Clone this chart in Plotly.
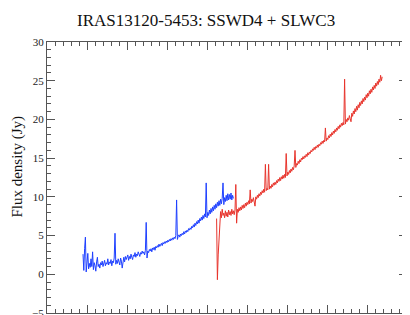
import plotly.graph_objects as go

# Spectral channel grids (regular sampling) and flux values
ssw_x_start, ssw_x_step = 4.5, 0.1
ssw_flux = [2.6, 0.5, 3.3, 4.8, 0.3, 1.8, 2.7, 0.7, 1.4, 0.9,
            2.0, 1.0, 2.9, 0.6, 1.5, 1.1, 0.4, 1.6, 2.2, 1.0,
            1.3, 0.8, 1.5, 1.2, 1.7, 1.0, 1.4, 1.8, 1.1, 1.5,
            1.3, 2.0, 1.2, 1.6, 1.4, 1.9, 1.1, 1.7, 1.5, 2.1,
            5.3, 1.3, 1.8, 1.4, 2.0, 1.6, 1.2, 2.1, 1.7, 0.8,
            1.9, 2.2, 1.6, 2.3, 1.9, 2.1, 2.5, 1.8, 2.3, 2.0,
            2.6, 2.2, 1.9, 2.5, 2.3, 2.8, 2.2, 2.6, 2.4, 2.9,
            2.5, 2.3, 2.8, 2.6, 3.0, 2.7, 2.9, 2.5, 3.1, 6.7,
            2.1, 3.0, 2.8, 3.2, 3.0, 3.3, 2.9, 3.4, 3.2, 3.5,
            3.1, 3.6, 3.4, 3.7, 3.5, 3.9, 3.6, 3.8, 4.0, 3.7,
            4.1, 3.9, 4.2, 4.0, 4.3, 4.1, 4.4, 4.2, 4.5, 4.3,
            4.6, 4.4, 4.7, 4.5, 4.8, 4.6, 5.0, 9.6, 4.5, 4.9,
            5.1, 4.8, 5.2, 5.0, 5.3, 5.1, 5.5, 5.2, 5.6, 5.4,
            5.7, 5.5, 5.9, 5.7, 6.0, 5.8, 6.2, 6.0, 6.4, 6.1,
            6.6, 6.3, 6.8, 6.5, 7.0, 6.6, 7.2, 6.9, 7.4, 7.0,
            7.6, 7.2, 7.8, 7.4, 11.8, 7.3, 8.0, 7.6, 8.3, 7.8,
            8.5, 8.0, 8.7, 8.2, 8.9, 8.4, 9.1, 8.6, 9.3, 8.8,
            9.5, 8.9, 9.7, 9.1, 9.8, 11.8, 9.0, 9.9, 9.4, 10.2,
            9.5, 10.4, 9.6, 10.3, 9.7, 10.5, 9.6, 10.2, 9.8]

slw_x_start, slw_x_step = 21.2, 0.1
slw_flux = [7.2, -0.7, 2.5, 4.4, 6.5, 8.1, 7.3, 8.4, 7.6, 7.9,
            7.3, 8.2, 7.5, 8.0, 7.4, 8.3, 7.7, 8.1, 7.6, 8.4,
            7.8, 8.2, 7.7, 8.3, 11.6, 6.6, 8.4, 8.0, 8.6, 8.2,
            8.7, 8.3, 8.9, 8.5, 9.0, 8.6, 9.2, 8.8, 9.3, 9.0,
            9.5, 9.1, 10.9, 9.2, 9.7, 9.4, 9.9, 9.5, 8.8, 10.0,
            9.7, 10.2, 9.9, 10.4, 10.1, 10.6, 10.3, 10.8, 10.5, 11.0,
            10.6, 14.2, 10.8, 11.1, 10.9, 14.2, 11.0, 11.4, 11.1, 11.6,
            11.3, 11.8, 11.5, 11.9, 11.6, 12.1, 11.8, 12.3, 12.0, 12.5,
            12.1, 12.6, 12.3, 12.8, 12.4, 12.9, 12.5, 15.6, 12.7, 13.2,
            12.9, 13.4, 13.1, 13.6, 13.3, 13.8, 13.5, 14.0, 16.0, 13.8,
            14.3, 14.1, 14.6, 14.3, 14.8, 14.5, 15.0, 14.8, 15.2, 14.9,
            15.3, 15.1, 15.5, 15.2, 15.7, 15.4, 15.8, 15.6, 16.0, 15.8,
            16.2, 16.0, 16.4, 16.1, 16.5, 16.3, 16.7, 16.4, 16.8, 16.6,
            17.0, 16.8, 17.2, 16.9, 17.3, 17.1, 18.9, 17.2, 17.6, 17.4,
            17.9, 17.6, 18.1, 17.8, 18.3, 18.0, 18.5, 18.2, 18.7, 18.4,
            18.9, 18.6, 19.1, 18.8, 19.3, 19.0, 19.5, 19.2, 19.6, 19.3,
            25.2, 19.4, 20.0, 19.7, 20.2, 19.9, 20.5, 20.1, 19.7, 20.8,
            20.4, 21.1, 20.7, 21.4, 21.0, 21.7, 21.2, 21.9, 21.5, 22.2,
            21.8, 22.4, 22.0, 22.7, 22.3, 22.9, 22.5, 23.2, 22.8, 23.4,
            23.0, 23.7, 23.3, 23.9, 23.5, 24.2, 23.8, 24.4, 24.0, 24.7,
            24.3, 24.9, 24.5, 25.2, 24.8, 25.7, 25.0, 25.5]

ssw_x = [round(ssw_x_start + ssw_x_step * i, 3) for i in range(len(ssw_flux))]
slw_x = [round(slw_x_start + slw_x_step * i, 3) for i in range(len(slw_flux))]

title_text = "IRAS13120-5453: SSWD4 + SLWC3"
y_title = "Flux density (Jy)"
y_ticks = [-5, 0, 5, 10, 15, 20, 25, 30]

SERIF = "Liberation Serif"

fig = go.Figure()
fig.add_trace(go.Scatter(x=slw_x, y=slw_flux, mode="lines",
                         line=dict(color="#e8342c", width=1), name="SLWC3"))
fig.add_trace(go.Scatter(x=ssw_x, y=ssw_flux, mode="lines",
                         line=dict(color="#1e40ff", width=1), name="SSWD4"))

axis_common = dict(showgrid=False, zeroline=False, showline=True, linecolor="#555",
                   linewidth=1, mirror="ticks", ticks="inside", tickcolor="#555",
                   ticklen=8, tickwidth=1, automargin=False)

# the page body adds an 8px offset, so the figure is 8px smaller on each axis
fig.update_layout(
    width=402, height=307,
    margin=dict(l=39, r=3, t=34, b=2),
    paper_bgcolor="white", plot_bgcolor="white",
    showlegend=False,
    font=dict(family=SERIF, color="#222"),
    xaxis=dict(range=[0, 45], dtick=5, tick0=0, showticklabels=False,
               minor=dict(dtick=1, ticklen=4, ticks="inside", tickcolor="#555"),
               **axis_common),
    yaxis=dict(range=[-5, 30], tickvals=y_ticks, showticklabels=True,
               ticklabeloverflow="allow",
               tickfont=dict(size=11, family=SERIF, color="#222"),
               minor=dict(dtick=1, ticklen=4, ticks="inside", tickcolor="#555"),
               **axis_common),
    annotations=[
        dict(text=title_text, xref="paper", yref="paper", x=0.4417, y=1.081,
             xanchor="center", yanchor="middle", showarrow=False,
             font=dict(size=17, family=SERIF, color="#111")),
        dict(text=y_title, xref="paper", yref="paper", x=-0.082, y=0.542,
             xanchor="center", yanchor="middle", showarrow=False, textangle=-90,
             font=dict(size=15, family=SERIF, color="#111")),
    ],
)

fig.write_html("out.html")
